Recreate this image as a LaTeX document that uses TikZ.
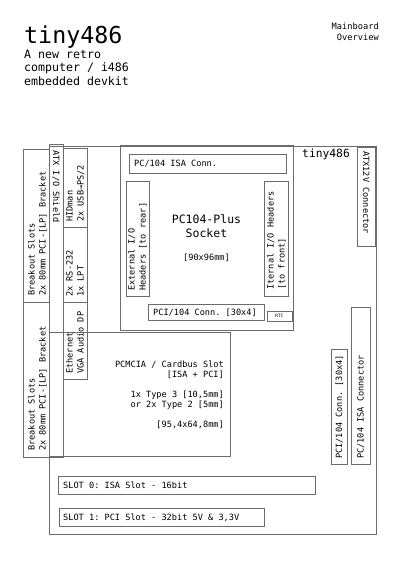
\documentclass[tikz,border=0pt]{standalone}
\usepackage{fontspec}
\setmonofont{DejaVu Sans Mono}
\usetikzlibrary{fit}
\tikzset{
  box/.style={draw=black!58, line width=0.8pt, inner sep=0pt},
  lbl/.style={inner sep=0pt, font=\ttfamily\fontsize{8.6}{10}\selectfont},
  up/.style={lbl, rotate=90, anchor=base west},
  down/.style={lbl, rotate=-90, anchor=base west},
}
\newcommand\pbox[3]{\node[box, fit={(#2) (#3)}] (#1) {};}
\begin{document}
\begin{tikzpicture}[x=1pt,y=1pt]
\useasboundingbox (0,0) rectangle (404,-571);
% header
\node[inner sep=0pt, anchor=base west, font=\ttfamily\fontsize{23.3}{28}\selectfont] (title) at (24,-43.5) {tiny486};
\node[inner sep=0pt, anchor=base west, font=\ttfamily\fontsize{11.6}{13.5}\selectfont] (sub1) at (24,-58) {A new retro};
\node[inner sep=0pt, anchor=base west, font=\ttfamily\fontsize{11.6}{13.5}\selectfont] (sub2) at (24,-71.5) {computer / i486};
\node[inner sep=0pt, anchor=base west, font=\ttfamily\fontsize{11.6}{13.5}\selectfont] (sub3) at (24,-85) {embedded devkit};
\node[inner sep=0pt, anchor=base east, font=\ttfamily\fontsize{8.7}{11}\selectfont] (ov1) at (379,-29) {Mainboard};
\node[inner sep=0pt, anchor=base east, font=\ttfamily\fontsize{8.7}{11}\selectfont] (ov2) at (379,-40) {Overview};
% boxes
\pbox{board}{49,-146}{376,-534}
\pbox{socket}{120,-145}{293,-330}
\pbox{isa}{129,-154}{286,-173}
\pbox{extio}{126,-181}{149,-296}
\pbox{intio}{264,-181}{288,-296}
\pbox{pcih}{148,-304}{264,-320}
\pbox{rtc}{267,-311}{292,-321}
\pbox{atx}{357,-147}{375,-246}
\pbox{brk1}{23,-149}{49,-302}
\pbox{brk2}{23,-302}{49,-457}
\pbox{pcmcia}{49,-332}{230,-456}
\pbox{shield}{49,-144}{63,-457}
\pbox{hid}{63,-148}{87,-227}
\pbox{rs}{63,-227}{87,-302}
\pbox{eth}{63,-302}{87,-379}
\pbox{pciv}{331,-349}{347,-464}
\pbox{isav}{351,-307}{370,-464}
\pbox{slot0}{58,-476}{315,-494}
\pbox{slot1}{59,-508}{264,-526}
% board / socket labels
\node[inner sep=0pt, anchor=base west, font=\ttfamily\fontsize{11.3}{13}\selectfont] (boardlbl) at (302,-157) {tiny486};
\node[lbl, anchor=base west] (isalbl) at (134,-166) {PC/104 ISA Conn.};
\node[inner sep=0pt, anchor=base, font=\ttfamily\fontsize{11.5}{14}\selectfont] (sock1) at (206.5,-223) {PC104-Plus};
\node[inner sep=0pt, anchor=base, font=\ttfamily\fontsize{11.5}{14}\selectfont] (sock2) at (206.5,-237) {Socket};
\node[lbl, anchor=base] (sockdim) at (206.5,-260) {[90x96mm]};
\node[up] (ext1) at (134.5,-291) {External I/O};
\node[up] (ext2) at (145.5,-291) {Headers [to rear]};
\node[up] (int1) at (273.5,-290) {Iternal I/O Headers};
\node[up] (int2) at (284.5,-290) {[to front]};
\node[lbl, anchor=base west] (pcihlbl) at (153,-315) {PCI/104 Conn. [30x4]};
\node[inner sep=0pt, font=\ttfamily\fontsize{4.5}{5}\selectfont] (rtclbl) at (rtc.center) {RTC};
\node[down] (atxlbl) at (363,-151) {ATX12V Connector};
% left column
\node[up] (b1a) at (34.5,-296) {Breakout Slots};
\node[up] (b1b) at (45.5,-296) {2x 80mm PCI-[LP] Bracket};
\node[up] (b2a) at (34.5,-451) {Breakout Slots};
\node[up] (b2b) at (45.5,-451) {2x 80mm PCI-[LP] Bracket};
\node[down] (shieldlbl) at (53,-150) {ATX I/O Shield};
\node[up] (hid1) at (72.5,-222) {HIDman};
\node[up] (hid2) at (83.5,-222) {2x USB→PS/2};
\node[up] (rs1) at (72.5,-297) {2x RS-232};
\node[up] (rs2) at (83.5,-297) {1x LPT};
\node[up] (eth1) at (72.5,-374) {Ethernet};
\node[up] (eth2) at (83.5,-374) {VGA Audio DP};
% PCMCIA
\node[lbl, anchor=base east] (pc1) at (224,-367) {PCMCIA / Cardbus Slot};
\node[lbl, anchor=base east] (pc2) at (224,-377) {[ISA + PCI]};
\node[lbl, anchor=base east] (pc3) at (224,-397) {1x Type 3 [10,5mm]};
\node[lbl, anchor=base east] (pc4) at (224,-407) {or 2x Type 2 [5mm]};
\node[lbl, anchor=base east] (pc5) at (224,-427) {[95,4x64,8mm]};
% right connectors
\node[up] (pcivlbl) at (342,-459) {PCI/104 Conn. [30x4]};
\node[up] (isavlbl) at (363.5,-459) {PC/104 ISA Connector};
% slots
\node[lbl, anchor=base west] (s0lbl) at (63,-488) {SLOT 0: ISA Slot - 16bit};
\node[lbl, anchor=base west] (s1lbl) at (63,-520) {SLOT 1: PCI Slot - 32bit 5V \& 3,3V};
\end{tikzpicture}
\end{document}
